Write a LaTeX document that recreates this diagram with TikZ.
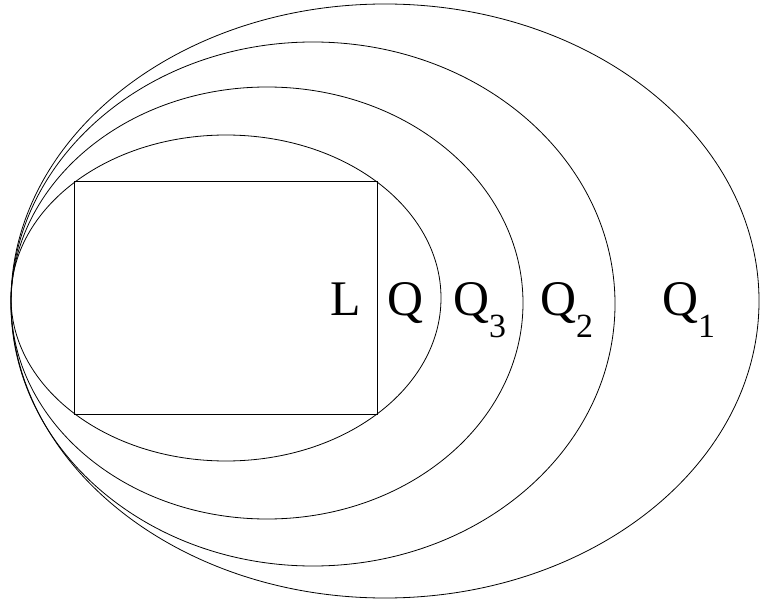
\documentclass[tikz,border=0pt]{standalone}
\usepackage{fontspec}
\setmainfont{Liberation Serif}
\newcommand{\lowidx}[1]{\raisebox{-22bp}{\fontsize{34}{36}\selectfont #1}}
\begin{document}
\begin{tikzpicture}[x=1bp,y=-1bp,
  curve/.style={line width=0.8bp},
  lbl/.style={anchor=base west,inner sep=0pt,font=\fontsize{50}{52}\selectfont}]
\useasboundingbox (0,0) rectangle (760,604);
\draw[curve] (385,301) ellipse [x radius=374bp, y radius=297bp];
\draw[curve] (313,304) ellipse [x radius=302bp, y radius=262bp];
\draw[curve] (267,303) ellipse [x radius=256bp, y radius=216bp];
\draw[curve] (226,298) ellipse [x radius=215bp, y radius=163bp];
\draw[curve] (74,181) rectangle (377,414);
\node[lbl] (l) at (330,315) {L};
\node[lbl] (q) at (387,315) {Q};
\node[lbl] (q3) at (453,315) {Q\lowidx{3}};
\node[lbl] (q2) at (540,315) {Q\lowidx{2}};
\node[lbl] (q1) at (662,315) {Q\lowidx{1}};
\end{tikzpicture}
\end{document}
